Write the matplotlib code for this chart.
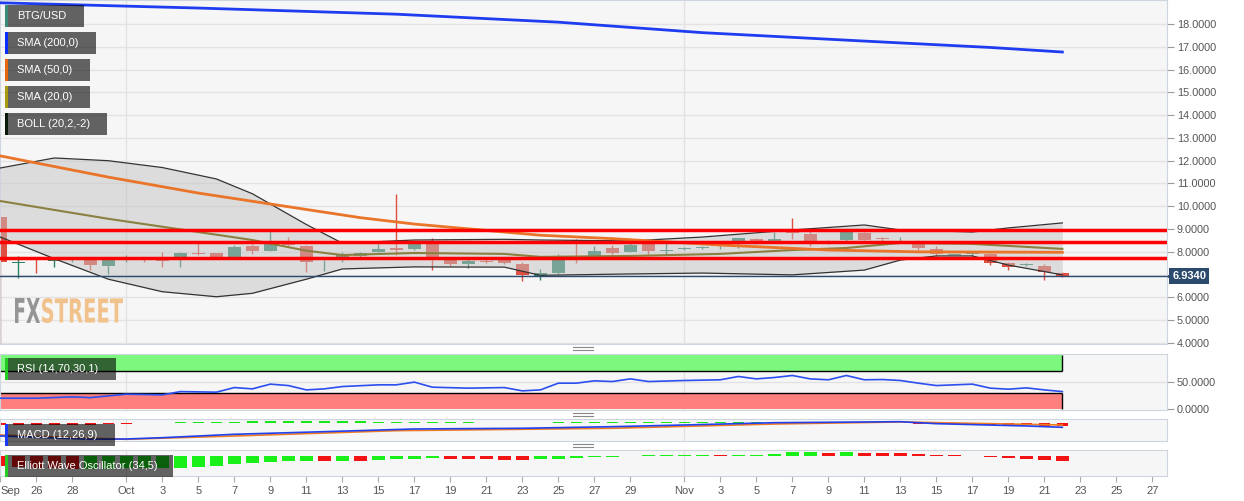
import numpy as np
import pandas as pd
import matplotlib
matplotlib.use("Agg")
import matplotlib.pyplot as plt
import matplotlib.dates as mdates
import matplotlib.transforms as mtransforms
from matplotlib.patches import Rectangle, PathPatch
from matplotlib.textpath import TextPath
from matplotlib.font_manager import FontProperties
from matplotlib.lines import Line2D
from matplotlib.ticker import FormatStrFormatter, FuncFormatter

W, H = 1244, 501
plt.rcParams['font.family'] = ['Liberation Sans', 'DejaVu Sans']

start = "2018-09-24"

# daily candles BTG/USD (Sep 24 -> Nov 22)
opens = [9.54, 7.52, 7.62, 7.62, 7.66, 7.64, 7.38, 7.74, 7.71, 7.73,
         7.64, 7.95, 7.94, 7.79, 8.26, 8.05, 8.40, 8.27, 7.58, 7.64,
         7.82, 8.01, 8.16, 8.14, 8.40, 7.69, 7.48, 7.62, 7.64, 7.47,
         6.91, 7.06, 7.84, 7.82, 8.19, 8.01, 8.33, 8.03, 8.14, 8.18,
         8.24, 8.33, 8.55, 8.45, 8.96, 8.78, 8.45, 8.52, 8.82, 8.59,
         8.50, 8.38, 8.13, 7.87, 7.90, 7.91, 7.53, 7.44, 7.38, 7.09]
highs = [9.58, 7.82, 7.79, 7.79, 7.79, 7.66, 7.72, 7.88, 7.79, 8.01,
         8.01, 8.40, 7.96, 8.30, 8.33, 8.92, 8.63, 8.30, 7.65, 7.98,
         8.00, 8.33, 10.53, 8.52, 8.60, 7.75, 7.72, 7.68, 7.70, 7.56,
         7.24, 7.91, 8.55, 8.26, 8.30, 8.60, 8.36, 8.38, 8.20, 8.25,
         8.36, 8.60, 8.62, 8.89, 9.47, 8.96, 8.52, 8.96, 8.86, 8.63,
         8.66, 8.52, 8.24, 7.92, 8.00, 7.95, 7.56, 7.50, 7.47, 7.12]
lows = [3.50, 6.87, 7.06, 7.35, 7.55, 7.20, 7.03, 7.56, 7.56, 7.35,
        7.32, 7.88, 7.74, 7.77, 7.90, 8.02, 8.20, 7.13, 7.17, 7.55,
        7.78, 7.98, 7.86, 8.10, 7.21, 7.40, 7.28, 7.50, 7.48, 6.72,
        6.78, 7.02, 7.50, 7.78, 7.86, 7.98, 7.91, 7.86, 8.08, 8.12,
        8.12, 8.17, 8.36, 8.42, 8.55, 8.24, 8.36, 8.45, 8.50, 8.34,
        8.45, 8.08, 7.80, 7.85, 7.82, 7.43, 7.21, 7.40, 6.76, 6.90]
closes = [7.57, 7.55, 7.58, 7.65, 7.71, 7.42, 7.67, 7.77, 7.66, 7.62,
          7.97, 7.89, 7.76, 8.20, 8.04, 8.42, 8.30, 7.57, 7.61, 7.89,
          7.96, 8.11, 8.08, 8.38, 7.79, 7.48, 7.59, 7.55, 7.53, 6.99,
          7.06, 7.67, 7.80, 8.04, 7.97, 8.30, 8.04, 8.07, 8.18, 8.22,
          8.28, 8.60, 8.45, 8.56, 8.82, 8.49, 8.38, 8.89, 8.52, 8.55,
          8.52, 8.18, 7.90, 7.91, 7.96, 7.53, 7.35, 7.47, 7.13, 6.934]

# overlays, read at their vertices (day offset from Sep 24)
sma200_days = [0, 11, 22, 31, 39, 48, 55, 59]
sma200 = [18.93, 18.70, 18.43, 18.08, 17.62, 17.25, 16.97, 16.77]
sma50_days = [0, 6, 11, 15, 20, 23, 30, 34, 40, 46, 51, 59]
sma50 = [12.21, 11.28, 10.58, 10.10, 9.50, 9.22, 8.73, 8.58, 8.30, 8.08, 8.00, 7.98]
sma20_days = [0, 6, 11, 14, 17, 19, 23, 28, 30, 35, 40, 44, 47, 50, 54, 59]
sma20 = [10.23, 9.45, 8.87, 8.52, 8.05, 7.86, 7.95, 7.91, 7.78, 7.82, 7.91, 8.08, 8.17, 8.39, 8.35, 8.13]
boll_days = [0, 3, 6, 9, 12, 14, 17, 19, 23, 28, 30, 35, 39, 44, 48, 50, 52, 54, 56, 59]
boll_up = [11.68, 12.12, 12.00, 11.70, 11.20, 10.55, 9.20, 8.38, 8.52, 8.55, 8.52, 8.48,
           8.65, 8.96, 9.18, 8.96, 8.92, 8.87, 9.05, 9.27]
boll_lo = [8.65, 7.70, 6.80, 6.25, 6.03, 6.18, 6.80, 7.25, 7.34, 7.33, 6.97, 7.03,
           7.07, 6.99, 7.20, 7.64, 7.82, 7.82, 7.42, 6.99]
levels = [8.97, 8.45, 7.75]

# RSI (14)
rsi_days = [0, 2, 4, 5, 7, 9, 10, 12, 13, 14, 15, 16, 17, 18, 19, 21, 22, 23, 24, 26,
            28, 29, 30, 31, 32, 33, 34, 35, 36, 38, 40, 41, 42, 43, 44, 45, 46, 47, 48, 49,
            50, 51, 52, 53, 54, 55, 56, 57, 58, 59]
rsi = [20.4, 20.4, 22.8, 21.5, 27.8, 26.5, 32.6, 31.5, 40.0, 37.6, 46.3, 43.7, 35.7, 37.6, 41.9,
       45.0, 45.0, 50.0, 40.7, 38.9, 40.0, 33.9, 35.7, 48.1, 48.1, 52.4, 51.1, 56.0, 51.1, 53.0,
       54.3, 60.4, 56.0, 58.5, 62.2, 56.0, 54.3, 62.2, 54.3, 54.8, 53.0, 48.1, 43.7, 45.0, 46.3,
       38.9, 37.0, 39.4, 35.7, 32.6]
rsi_hi, rsi_lo = 70, 30

# MACD (12,26,9)
macd_days = [0, 5, 7, 9, 13, 18, 23, 29, 34, 38, 43, 50, 52, 57, 59]
macd = [-0.395, -0.497, -0.488, -0.448, -0.343, -0.262, -0.179, -0.157, -0.108, -0.056,
        0.015, 0.046, -0.015, -0.086, -0.127]
signal_days = [0, 7, 13, 22, 34, 43, 50, 59]
signal = [-0.364, -0.497, -0.395, -0.231, -0.157, -0.025, 0.037, -0.056]
macd_hist = [-0.06, -0.06, -0.06, -0.06, -0.06, -0.06, -0.04, -0.02, 0.0, 0.01,
             0.03, 0.035, 0.045, 0.05, 0.06, 0.07, 0.08, 0.07, 0.065, 0.06,
             0.06, 0.05, 0.05, 0.05, 0.04, 0.035, 0.03, 0.02, 0.01, 0.005,
             0.005, 0.03, 0.04, 0.05, 0.05, 0.05, 0.045, 0.045, 0.04, 0.04,
             0.04, 0.04, 0.045, 0.045, 0.05, 0.04, 0.03, 0.02, 0.02, 0.01,
             0.005, -0.01, -0.02, -0.03, -0.04, -0.05, -0.06, -0.07, -0.08, -0.09]

# Elliott Wave Oscillator (34,5)
ewo = [-0.51, -0.55, -0.60, -0.63, -0.66, -0.65, -0.64, -0.63, -0.62, -0.61,
       -0.60, -0.55, -0.52, -0.42, -0.35, -0.30, -0.25, -0.24, -0.25, -0.24,
       -0.25, -0.22, -0.18, -0.15, -0.13, -0.15, -0.16, -0.18, -0.19, -0.20,
       -0.18, -0.15, -0.12, -0.08, -0.05, -0.02, 0.03, 0.035, 0.04, 0.045,
       0.035, 0.05, 0.06, 0.07, 0.17, 0.175, 0.16, 0.20, 0.16, 0.15,
       0.13, 0.10, 0.06, 0.02, -0.005, -0.04, -0.10, -0.15, -0.20, -0.25]

dates = pd.date_range(start, periods=len(closes), freq="D")
x = mdates.date2num(dates)
t0 = mdates.date2num(pd.Timestamp(start))


def day_x(days):
    return t0 + np.asarray(days, dtype=float)


month_lines = mdates.date2num(pd.to_datetime(["2018-10-01", "2018-11-01"]))

fig = plt.figure(figsize=(W / 100, H / 100), dpi=100)
fig.patch.set_facecolor('white')
x0 = x[0] - 0.02
x1 = x0 + 1167 / 18


def panel(top, bottom):
    ax = fig.add_axes([0, 1 - bottom / H, 1167 / W, (bottom - top) / H])
    ax.set_facecolor('#f6f6f6')
    ax.set_xlim(x0, x1)
    for s in ax.spines.values():
        s.set_color('#cfd5df')
    ax.tick_params(axis='x', bottom=False, labelbottom=False)
    ax.yaxis.tick_right()
    ax.tick_params(axis='y', length=5, color='#9a9a9a', labelsize=7.8,
                   labelcolor='#555555', pad=2)
    ax.yaxis.set_major_formatter(FormatStrFormatter('%.4f'))
    for m in month_lines:
        ax.axvline(m, color='#e2e2e2', lw=1, zorder=0)
    return ax


last = closes[-1]

# ---- main price panel
ax = panel(0, 343.5)
ax.set_ylim(3.978, 19.053)
ax.set_yticks(range(4, 19))
# the last-price tag hides the tick label next to it
ax.yaxis.set_major_formatter(FuncFormatter(lambda v, p: '' if abs(v - last) < 0.5 else f'{v:.4f}'))
ax.grid(axis='y', color='#e3e3e3', lw=1, zorder=0)
ax.set_axisbelow(True)

o = np.array(opens); c = np.array(closes)
col = np.where(c >= o, '#2a8568', '#e04e42')
ax.vlines(x, lows, highs, colors=col, lw=1, zorder=2)
ax.bar(x, np.maximum(np.abs(c - o), 0.04), bottom=np.minimum(o, c), width=0.7,
       color=col, lw=0, zorder=2)

bx = day_x(boll_days)
ax.fill_between(bx, boll_lo, boll_up, color='#c4c4c4', alpha=0.5, lw=0, zorder=3)
ax.plot(bx, boll_up, color='#333333', lw=0.9, zorder=4)
ax.plot(bx, boll_lo, color='#333333', lw=0.9, zorder=4)
ax.plot(day_x(sma20_days), sma20, color='#8c8040', lw=1.5, zorder=4)
ax.plot(day_x(sma50_days), sma50, color='#ea7428', lw=2, zorder=5)
ax.plot(day_x(sma200_days), sma200, color='#1e3cf0', lw=2, zorder=5)
for lv in levels:
    ax.axhline(lv, color='#ff0000', lw=2.5, zorder=6)
ax.axhline(last, color='#2c4a6e', lw=1, zorder=6)
blend = mtransforms.blended_transform_factory(ax.transAxes, ax.transData)
ax.plot([1.0025], [last], marker='<', ms=5, color='#2c4a6e', transform=blend, clip_on=False, zorder=7)
ax.text(1.0045, last, f"{last:.4f}", transform=blend, color='white', fontsize=8,
        fontweight='bold', va='center', ha='left', clip_on=False, zorder=8,
        bbox=dict(boxstyle='square,pad=0.25', fc='#2c4a6e', ec='none'))

# ---- RSI panel
ar = panel(354, 409.5)
ar.set_ylim(-0.4, 101.8)
ar.set_yticks([0, 50])
ar.axhline(50, color='#e2e2e2', lw=1, zorder=0)
ar.fill_between([x0, x[-1]], rsi_hi, 100, color='#7df77d', lw=0, zorder=1)
ar.fill_between([x0, x[-1]], 0, rsi_lo, color='#ff7f7f', lw=0, zorder=1)
ar.hlines([rsi_hi, rsi_lo], x0, x[-1], color='black', lw=1, zorder=2)
ar.vlines([x[-1], x[-1]], [rsi_hi, 0], [100, rsi_lo], color='black', lw=1, zorder=2)
ar.plot(day_x(rsi_days), rsi, color='#2c4ff0', lw=1.2, zorder=3)

# ---- MACD panel
am = panel(419.3, 441)
am.set_ylim(-0.55, 0.12)
am.set_yticks([])
mh = np.array(macd_hist)
am.bar(x, mh, width=0.65, color=np.where(mh >= 0, '#19e619', '#f21414'), lw=0, zorder=2)
am.plot(day_x(signal_days), signal, color='#f07a20', lw=1.2, zorder=3)
am.plot(day_x(macd_days), macd, color='#2040ee', lw=1.2, zorder=3)

# ---- Elliott wave oscillator panel
ae = panel(450, 476)
ae.set_ylim(-1.01, 0.29)
ae.set_yticks([])
ev = np.array(ewo)
rising = np.diff(ev, prepend=ev[0] + 1) >= 0
ae.bar(x, ev, width=0.72, color=np.where(rising, '#19f019', '#f21414'), lw=0, zorder=2)

tick_dates = (list(pd.date_range("2018-09-24", "2018-09-28", freq="2D"))
              + list(pd.date_range("2018-10-01", "2018-10-29", freq="2D"))
              + list(pd.date_range("2018-11-01", "2018-11-27", freq="2D")))
tick_labels = [d.strftime("%b") if (d.day == 1 or i == 0) else str(d.day)
               for i, d in enumerate(tick_dates)]
ae.set_xticks(mdates.date2num(tick_dates))
ae.set_xticklabels(tick_labels)
ae.tick_params(axis='x', bottom=True, labelbottom=True, length=4, color='#aaaaaa',
               labelsize=8, labelcolor='#555555', pad=3)
ae.get_xticklabels()[0].set_ha('left')


# ---- overlay decorations (pixel positions)
def fig_rect(px, py, w, h, **kw):
    fig.add_artist(Rectangle((px / W, 1 - (py + h) / H), w / W, h / H,
                             transform=fig.transFigure, **kw))


def label_box(px, py, w, text, stripe):
    fig_rect(px, py, w, 22, facecolor='black', alpha=0.6, lw=0, zorder=10)
    fig_rect(px, py, 3, 22, facecolor=stripe, lw=0, zorder=11)
    fig.text((px + 12) / W, 1 - (py + 11) / H, text, color='white', fontsize=8,
             va='center', ha='left', zorder=12)


label_box(5, 5, 79, 'BTG/USD', '#3a8a78')
label_box(5, 32, 91, 'SMA (200,0)', '#0a2cff')
label_box(5, 59, 85, 'SMA (50,0)', '#e8650f')
label_box(5, 86, 85, 'SMA (20,0)', '#a89a10')
label_box(5, 113, 102, 'BOLL (20,2,-2)', '#0a1a0a')
label_box(5, 358, 111, 'RSI (14,70,30,1)', '#22cc22')
label_box(5, 424, 110, 'MACD (12,26,9)', '#1a3aff')
label_box(5, 455, 168, 'Elliott Wave Oscillator (34,5)', '#22cc22')

for gy in (348.5, 414.5, 445.5):
    for dy in (-1.2, 1.2):
        fig.add_artist(Line2D([573 / W, 593 / W], [1 - (gy + dy) / H] * 2,
                              transform=fig.transFigure, color='#888888', lw=0.8))


def word(text, px, py, w, h, color):
    tp = TextPath((0, 0), text, size=40, prop=FontProperties(family='DejaVu Sans', weight='bold'))
    bb = tp.get_extents()
    tr = (mtransforms.Affine2D().translate(-bb.x0, -bb.y0)
          .scale(w / bb.width, h / bb.height).translate(px, H - py - h))
    fig.add_artist(PathPatch(tp, transform=tr, facecolor=color, edgecolor='none', zorder=3))


word('FX', 15, 298, 25, 25, '#959595')
word('STREET', 42, 298, 81, 25, '#f2c28c')

fig.savefig('out.png', dpi=100, facecolor='white')
